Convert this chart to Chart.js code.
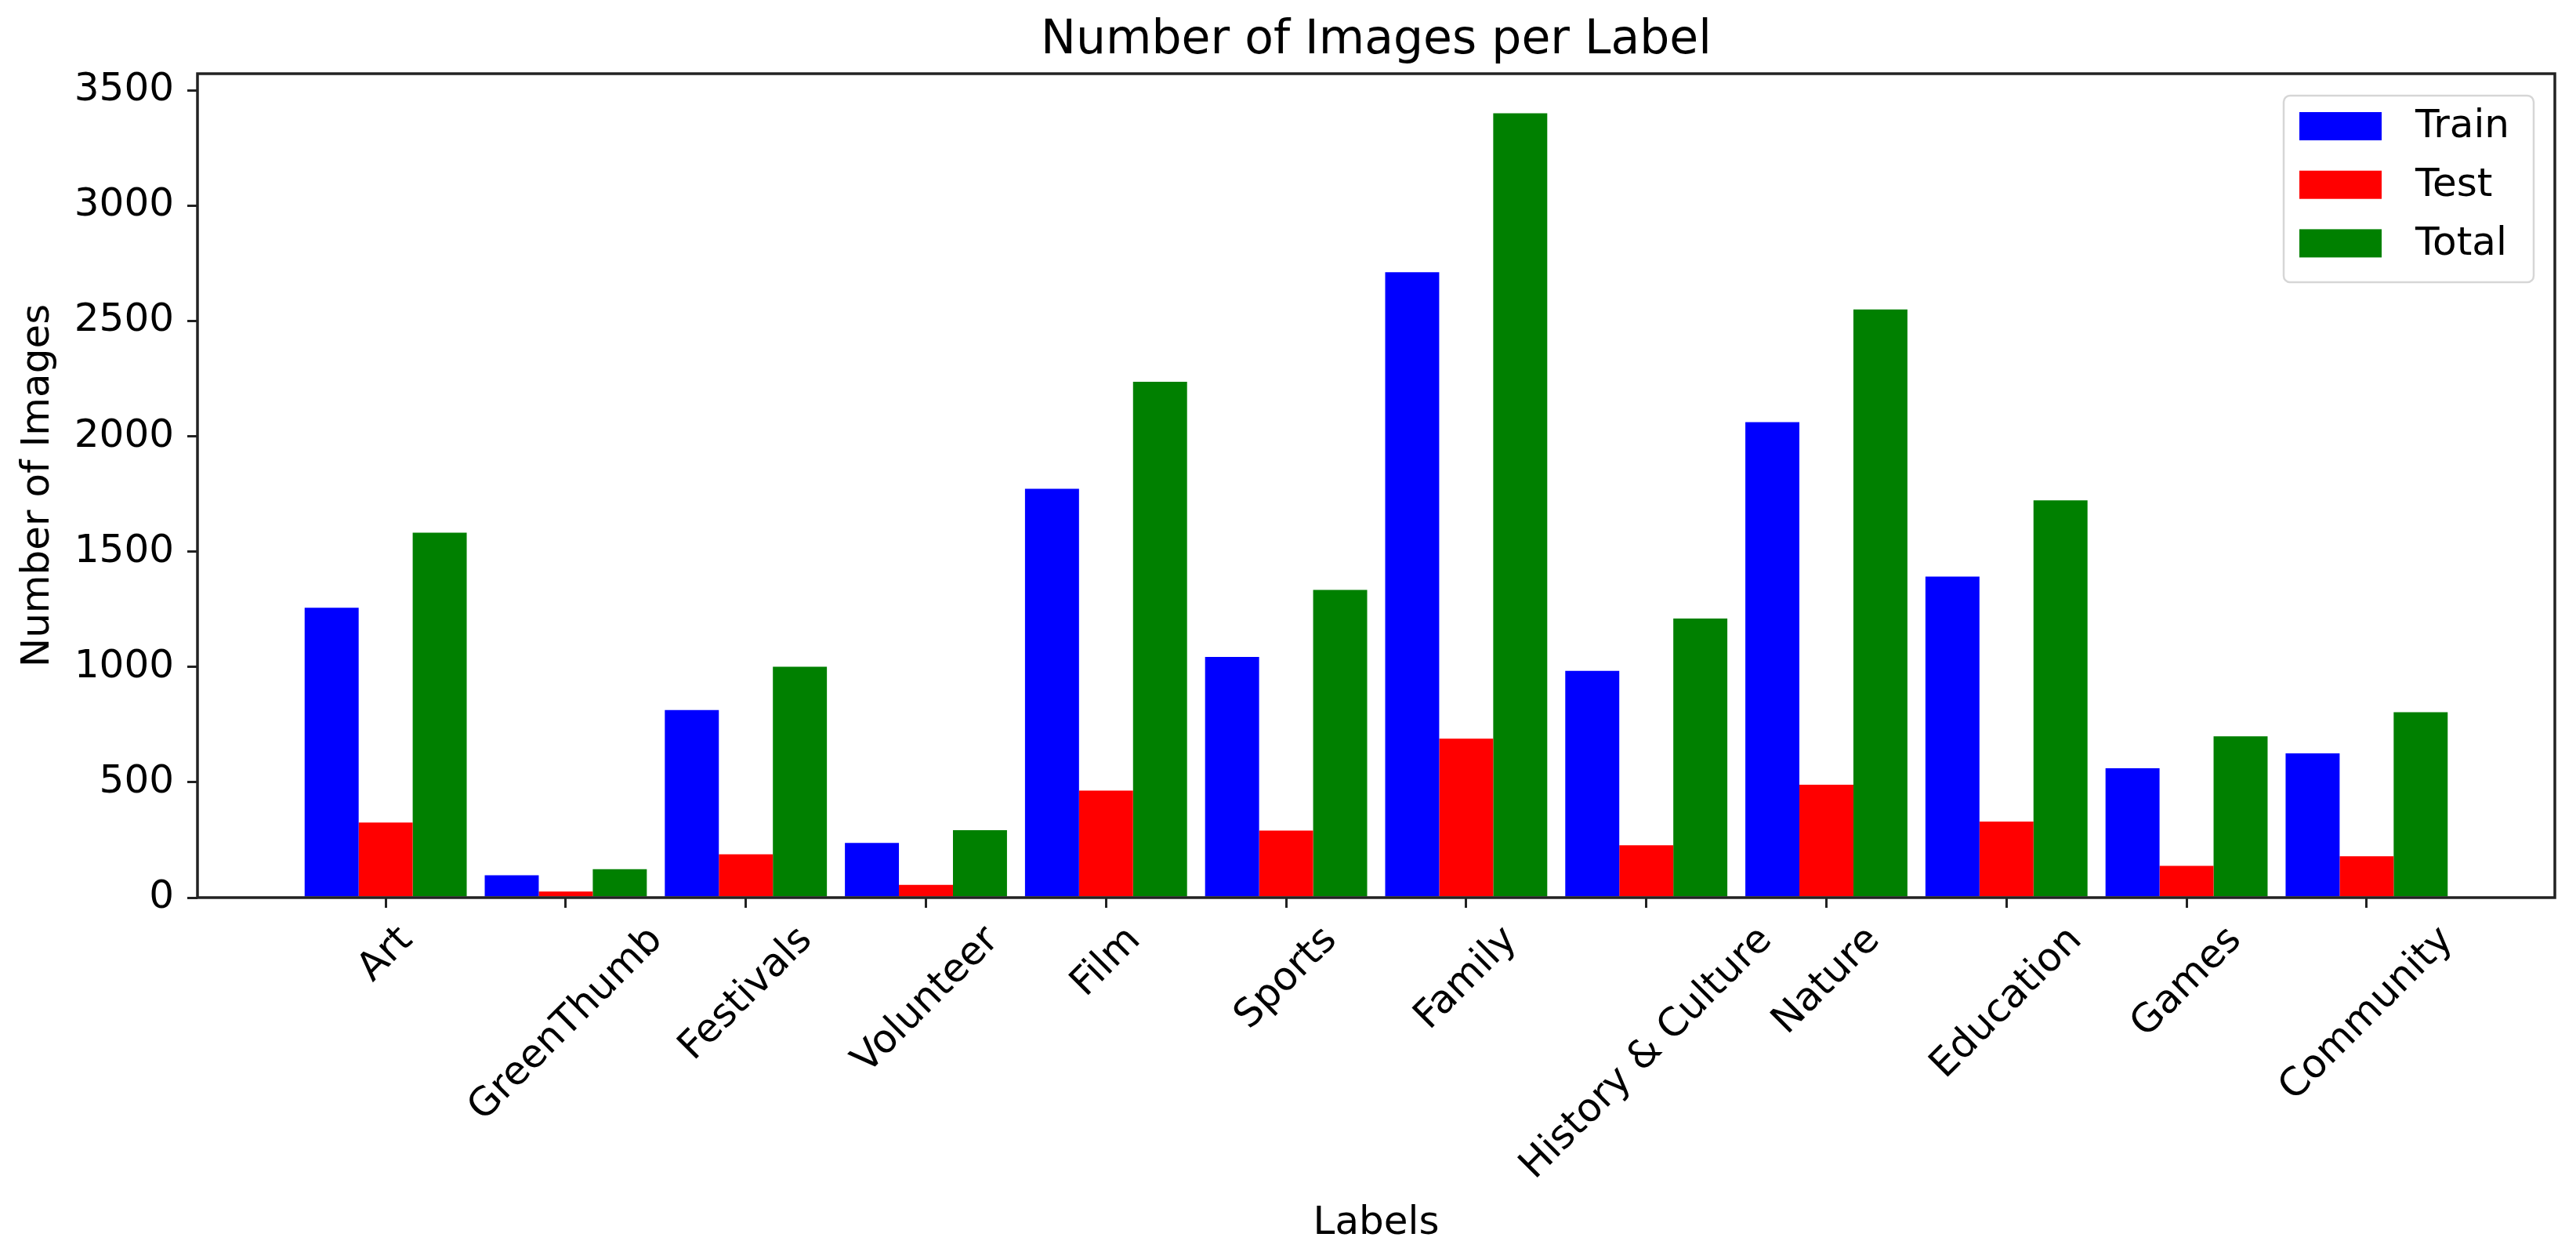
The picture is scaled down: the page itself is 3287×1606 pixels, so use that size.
<!DOCTYPE html>
<html>
<head>
<meta charset="utf-8">
<title>Number of Images per Label</title>
<script src="https://cdn.jsdelivr.net/npm/chart.js@4.4.1/dist/chart.umd.min.js"></script>
<style>
    html, body { margin: 0; padding: 0; background: #ffffff; overflow: hidden; }
    canvas { display: block; }
</style>
</head>
<body>
<canvas id="imagesChart" width="3287" height="1606"></canvas>
<script>
const LABELS = ['Art', 'GreenThumb', 'Festivals', 'Volunteer', 'Film', 'Sports', 'Family',
    'History & Culture', 'Nature', 'Education', 'Games', 'Community'];
const TRAIN  = [1257, 97, 813, 237, 1772, 1043, 2711, 983, 2061, 1392, 561, 625];
const TEST   = [325, 26, 188, 55, 464, 291, 689, 227, 489, 330, 138, 179];
const TOTAL  = [1582, 123, 1001, 292, 2236, 1334, 3400, 1210, 2550, 1722, 699, 804];
const SERIES = ['Train', 'Test', 'Total'];
const Y_TICKS = [0, 500, 1000, 1500, 2000, 2500, 3000, 3500];

const FONT_FAMILY = "'DejaVu Sans', sans-serif";
const FONT_SIZE = 50;
const AXIS_COLOR = '#222222';
const COLORS = ['#0000ff', '#ff0000', '#008000'];

Chart.defaults.font.family = FONT_FAMILY;
Chart.defaults.font.size = FONT_SIZE;
Chart.defaults.color = '#000000';

/**
 * Turns a list of values into {x, y} points on the linear index axis
 * @param aValues
 * @returns {{x: number, y: *}[]}
 */
function toPoints(aValues) {
    return aValues.map(function (iValue, i) {
        return { x: i, y: iValue };
    });
}

// axes box drawn over the bars, like matplotlib spines
const framePlugin = {
    id: 'frame',
    afterDatasetsDraw: function (chart) {
        const oArea = chart.chartArea;
        const ctx = chart.ctx;
        ctx.save();
        ctx.strokeStyle = AXIS_COLOR;
        ctx.lineWidth = 3.5;
        ctx.strokeRect(oArea.left, oArea.top, oArea.right - oArea.left, oArea.bottom - oArea.top);
        ctx.restore();
    }
};

// x tick labels rotated 45deg and centred on the tick
const tickLabelPlugin = {
    id: 'rotatedTickLabels',
    afterDraw: function (chart) {
        const ctx = chart.ctx;
        const oScale = chart.scales.x;
        const iTop = chart.chartArea.bottom + 29;
        const iLineHeight = 0.968 * FONT_SIZE;
        ctx.save();
        ctx.font = FONT_SIZE + 'px ' + FONT_FAMILY;
        ctx.fillStyle = '#000000';
        ctx.textAlign = 'center';
        ctx.textBaseline = 'alphabetic';
        LABELS.forEach(function (sLabel, i) {
            const iWidth = ctx.measureText(sLabel).width;
            const iBox = (iWidth + iLineHeight) / Math.SQRT2;
            ctx.save();
            ctx.translate(oScale.getPixelForValue(i), iTop + iBox / 2);
            ctx.rotate(-Math.PI / 4);
            ctx.fillText(sLabel, 0, 0.276 * FONT_SIZE);
            ctx.restore();
        });
        ctx.restore();
    }
};

// legend box in the upper right corner of the plot
const legendPlugin = {
    id: 'boxLegend',
    afterDraw: function (chart) {
        const ctx = chart.ctx;
        const oArea = chart.chartArea;
        const iWidth = 319;
        const iHeight = 238;
        const iLeft = oArea.right - 27 - iWidth;
        const iTop = oArea.top + 28;
        ctx.save();
        ctx.beginPath();
        ctx.roundRect(iLeft, iTop, iWidth, iHeight, 8);
        ctx.fillStyle = 'rgba(255, 255, 255, 0.8)';
        ctx.fill();
        ctx.strokeStyle = '#d6d6d6';
        ctx.lineWidth = 2.5;
        ctx.stroke();
        ctx.font = FONT_SIZE + 'px ' + FONT_FAMILY;
        ctx.textAlign = 'left';
        ctx.textBaseline = 'middle';
        chart.data.datasets.forEach(function (oSet, i) {
            const iRow = iTop + 39 + i * 74.7;
            ctx.fillStyle = oSet.backgroundColor;
            ctx.fillRect(iLeft + 20, iRow - 18, 105, 36);
            ctx.fillStyle = '#000000';
            ctx.fillText(oSet.label, iLeft + 168, iRow + 1.5);
        });
        ctx.restore();
    }
};

new Chart(document.getElementById('imagesChart').getContext('2d'), {
    type: 'bar',
    data: {
        datasets: [TRAIN, TEST, TOTAL].map(function (aValues, i) {
            return {
                label: SERIES[i],
                data: toPoints(aValues),
                backgroundColor: COLORS[i],
                borderWidth: 0
            };
        })
    },
    options: {
        responsive: false,
        animation: false,
        devicePixelRatio: 1,
        layout: { padding: { left: 0, right: 27, top: 0, bottom: 0 } },
        datasets: { bar: { categoryPercentage: 0.9, barPercentage: 1.0 } },
        plugins: {
            legend: { display: false },
            tooltip: { enabled: false },
            title: {
                display: true,
                fullSize: false,
                text: 'Number of Images per Label',
                color: '#000000',
                font: { size: 60, weight: 'normal' },
                padding: { top: 16.5, bottom: 5.5 }
            }
        },
        scales: {
            x: {
                type: 'linear',
                min: -1.045,
                max: 12.045,
                offset: false,
                afterBuildTicks: function (oScale) {
                    oScale.ticks = LABELS.map(function (sLabel, i) { return { value: i }; });
                },
                afterFit: function (oScale) { oScale.height = 461; },
                ticks: { display: false },
                grid: { offset: false, drawOnChartArea: false, color: AXIS_COLOR, lineWidth: 3, tickLength: 13 },
                border: { display: false },
                title: {
                    display: true,
                    text: 'Labels',
                    color: '#000000',
                    font: { size: FONT_SIZE },
                    padding: { top: 0, bottom: 15.3 }
                }
            },
            y: {
                min: 0,
                max: 3572,
                afterBuildTicks: function (oScale) {
                    oScale.ticks = Y_TICKS.map(function (iValue) { return { value: iValue }; });
                },
                afterFit: function (oScale) { oScale.width = 252; },
                ticks: {
                    color: '#000000',
                    font: { size: FONT_SIZE },
                    padding: 17,
                    callback: function (iValue) { return String(iValue); }
                },
                grid: { drawOnChartArea: false, color: AXIS_COLOR, lineWidth: 3, tickLength: 13 },
                border: { display: false },
                title: {
                    display: true,
                    text: 'Number of Images',
                    color: '#000000',
                    font: { size: FONT_SIZE },
                    padding: { top: 19.4, bottom: 0 }
                }
            }
        }
    },
    plugins: [framePlugin, tickLabelPlugin, legendPlugin]
});
</script>
</body>
</html>
